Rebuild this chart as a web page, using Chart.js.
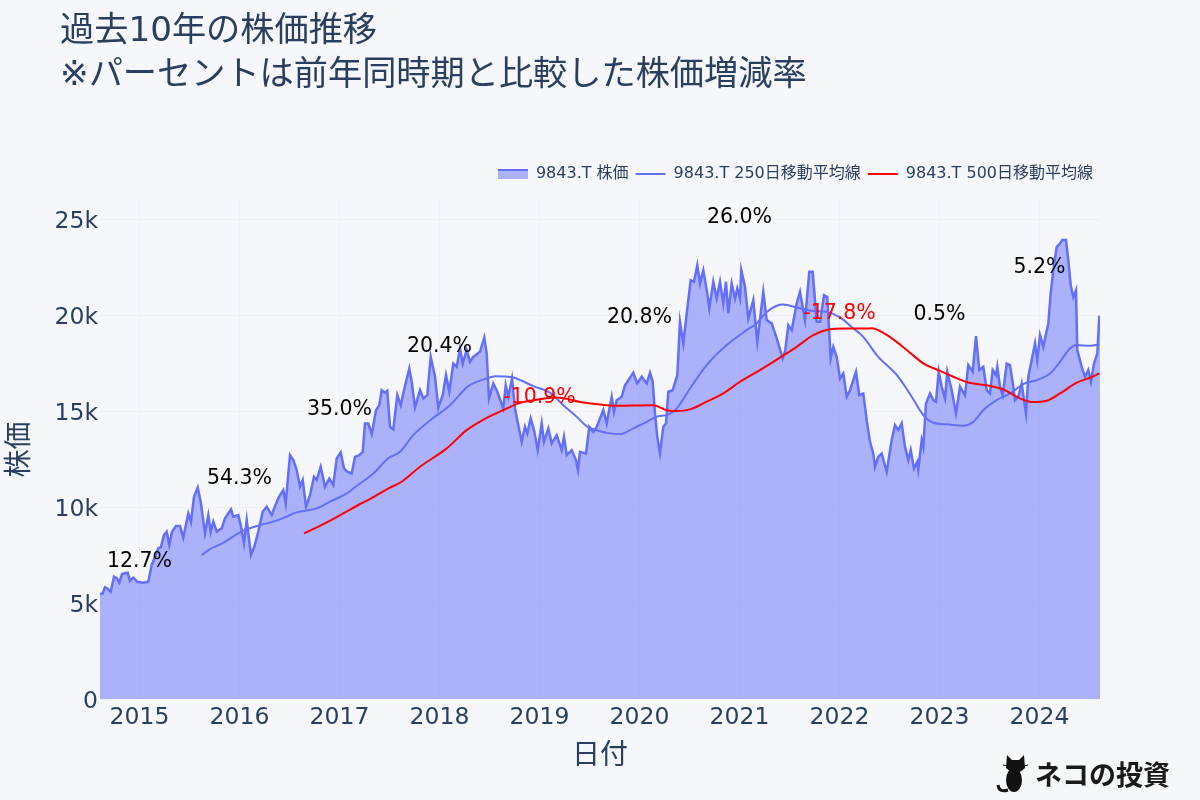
<!DOCTYPE html>
<html>
<head>
<meta charset="utf-8">
<title>過去10年の株価推移</title>
<script src="https://cdn.jsdelivr.net/npm/chart.js@4"></script>
<style>
  html, body { margin: 0; padding: 0; background: #f5f7fb; }
  canvas { display: block; }
</style>
</head>
<body>
<canvas id="stockChart" width="1200" height="800"></canvas>
<script>
const titleLines = ['過去10年の株価推移', '※パーセントは前年同時期と比較した株価増減率'];
const seriesNames = ['9843.T 株価', '9843.T 250日移動平均線', '9843.T 500日移動平均線'];
const yearTicks = [2015, 2016, 2017, 2018, 2019, 2020, 2021, 2022, 2023, 2024];
const priceTicks = [0, 5000, 10000, 15000, 20000, 25000];
const priceTickLabels = ['0', '5k', '10k', '15k', '20k', '25k'];

// x values are decimal years
const priceDates = [
  2014.605, 2014.632, 2014.655, 2014.678, 2014.712, 2014.745, 2014.772, 2014.798, 2014.825, 2014.855,
  2014.882, 2014.905, 2014.938, 2014.978, 2015.038, 2015.088, 2015.122, 2015.155, 2015.188, 2015.215,
  2015.245, 2015.272, 2015.298, 2015.325, 2015.365, 2015.405, 2015.438, 2015.488, 2015.515, 2015.545,
  2015.582, 2015.612, 2015.655, 2015.688, 2015.712, 2015.738, 2015.772, 2015.822, 2015.855, 2015.915,
  2015.938, 2015.988, 2016.012, 2016.045, 2016.072, 2016.115, 2016.148, 2016.188, 2016.232, 2016.272,
  2016.322, 2016.355, 2016.395, 2016.438, 2016.462, 2016.505, 2016.538, 2016.572, 2016.605, 2016.632,
  2016.665, 2016.705, 2016.745, 2016.772, 2016.812, 2016.855, 2016.898, 2016.938, 2016.972, 2017.012,
  2017.045, 2017.078, 2017.122, 2017.155, 2017.198,
  2017.232, 2017.255, 2017.288, 2017.322, 2017.365, 2017.398, 2017.422, 2017.455, 2017.478, 2017.505,
  2017.538, 2017.578, 2017.612, 2017.645, 2017.698, 2017.722, 2017.755, 2017.805, 2017.838, 2017.878,
  2017.912, 2017.955, 2017.988, 2018.032, 2018.065, 2018.098, 2018.138, 2018.172, 2018.205, 2018.232,
  2018.272, 2018.305, 2018.338, 2018.405, 2018.448, 2018.472, 2018.495, 2018.538, 2018.578, 2018.638,
  2018.662, 2018.688, 2018.725, 2018.755, 2018.778, 2018.822, 2018.855, 2018.878, 2018.912, 2018.945,
  2018.982, 2019.022, 2019.045, 2019.088, 2019.122, 2019.172, 2019.222, 2019.245, 2019.272, 2019.322,
  2019.365, 2019.385, 2019.405, 2019.465, 2019.498, 2019.538, 2019.572, 2019.638, 2019.672, 2019.705,
  2019.722, 2019.745, 2019.772, 2019.822, 2019.855, 2019.938, 2019.978, 2020.022, 2020.072, 2020.105,
  2020.132, 2020.155, 2020.178, 2020.205, 2020.238, 2020.265, 2020.288, 2020.332, 2020.378, 2020.405,
  2020.438, 2020.478, 2020.512, 2020.545, 2020.578, 2020.605, 2020.638, 2020.678, 2020.698, 2020.738,
  2020.772, 2020.805, 2020.838, 2020.865, 2020.888, 2020.922, 2020.955, 2020.978, 2021.005, 2021.018,
  2021.055, 2021.088, 2021.138, 2021.178, 2021.238, 2021.272, 2021.322, 2021.372, 2021.432, 2021.458,
  2021.488, 2021.522, 2021.572, 2021.605, 2021.655, 2021.698, 2021.732, 2021.772, 2021.805, 2021.845,
  2021.878, 2021.912, 2021.938, 2021.972, 2022.005, 2022.038, 2022.072, 2022.105, 2022.165, 2022.198,
  2022.238, 2022.272, 2022.305,
  2022.338, 2022.355, 2022.388, 2022.422, 2022.472, 2022.522, 2022.555, 2022.588, 2022.622, 2022.655,
  2022.688, 2022.712, 2022.745, 2022.778, 2022.788, 2022.822, 2022.838, 2022.865, 2022.905, 2022.938,
  2022.965, 2022.992, 2023.022, 2023.055, 2023.078, 2023.122, 2023.165, 2023.205, 2023.255, 2023.288,
  2023.332, 2023.365, 2023.398, 2023.438, 2023.472, 2023.505, 2023.532, 2023.565, 2023.578, 2023.605,
  2023.632, 2023.672, 2023.705, 2023.738, 2023.755, 2023.788, 2023.822, 2023.845, 2023.865, 2023.888,
  2023.922, 2023.955, 2023.978, 2024.005, 2024.038, 2024.088, 2024.112, 2024.138, 2024.172, 2024.205,
  2024.228, 2024.265, 2024.288, 2024.312, 2024.338, 2024.365, 2024.378, 2024.422, 2024.455, 2024.488,
  2024.515, 2024.545, 2024.578, 2024.598, 2024.605
];
const priceValues = [
  5470, 5500, 5820, 5760, 5590, 6370, 6290, 6060, 6510, 6550,
  6580, 6150, 6320, 6110, 6060, 6110, 6980, 7410, 7850, 7930,
  8540, 8720, 8020, 8720, 9010, 9010, 8400, 9670, 9240, 10540,
  11020, 10280, 8630, 9580, 8720, 9240, 8720, 8890, 9410, 9880,
  9500, 9580, 9060, 8110, 9320, 7500, 7930, 8720, 9760, 10020,
  9580, 10050, 10540, 10890, 10190, 12710, 12450, 11930, 11060, 11410,
  10020, 10620, 11580, 11410, 12100, 11060, 11490, 11150, 12530, 12850,
  12010, 11840, 11750, 12620, 12710,
  12880, 14360, 14360, 13800, 15050, 15310, 16090, 15960, 16060, 14180,
  14050, 15830, 15310, 16090, 17220, 16530, 15190, 16090, 15660, 15830,
  17830, 16790, 15190, 15830, 16880, 16010, 17480, 17310, 18260, 17480,
  18180, 17570, 17830, 18090, 18840, 18000, 15660, 16440, 16010, 15140,
  16350, 15750, 16700, 15140, 14530, 13400, 14180, 13840, 14620, 14010,
  12970, 14360, 13400, 14100, 13320, 13750, 12970, 13660, 12710, 12970,
  12450, 11930, 12880, 12800, 14180, 13920, 14180, 15050, 14360, 15310,
  15750, 14960, 15570, 15750, 16350, 17000, 16440, 16790, 16440, 17000,
  16530, 14880, 13660, 12800, 14180, 14360, 16010, 16090, 16870, 19650,
  18520, 20350, 21820, 21740, 22600, 21650, 22340, 21130, 20350, 21740,
  20870, 21740, 20610, 21740, 20090, 21650, 20870, 21390, 20870, 22340,
  21480, 19830, 20780, 18610, 21220, 19740, 19570, 18790, 17740, 18180,
  19480, 19220, 20610, 21220, 19740, 22260, 22260, 19650, 19650, 21040,
  20950, 17740, 18350, 17830, 16700, 16960, 15750, 16090, 17050, 15830,
  15920, 14530, 13400,
  12790, 12100, 12620, 12790, 11840, 13490, 14270, 14010, 14360, 13140,
  12450, 12970, 12010, 12360, 11960, 13490, 13140, 15400, 15920, 15570,
  15490, 17050, 16270, 15660, 17050, 16090, 14880, 16270, 15830, 17400,
  17050, 18910, 17140, 17310, 16090, 15920, 17140, 16880, 17310, 16270,
  15830, 17480, 17400, 16270, 15570, 15750, 16440, 15570, 14880, 16790,
  17660, 18530, 17660, 18960, 18350, 19570, 21130, 22340, 23560, 23730,
  23910, 23910, 22870, 21560, 20950, 21300, 18180, 17310, 16790, 17140,
  16530, 17480, 18000, 19910, 19910
];

const ma250Dates = [
  2015.622, 2015.705, 2015.838, 2015.988, 2016.072, 2016.205, 2016.338, 2016.472, 2016.555, 2016.772,
  2016.905, 2017.072, 2017.138, 2017.338, 2017.488, 2017.605, 2017.738, 2017.938, 2018.105, 2018.288,
  2018.472, 2018.555, 2018.738, 2018.822, 2018.938, 2019.105, 2019.238, 2019.372, 2019.488, 2019.588,
  2019.705, 2019.805, 2019.938, 2020.072, 2020.188, 2020.272, 2020.372, 2020.505, 2020.672, 2020.872,
  2021.072, 2021.172, 2021.272, 2021.372, 2021.438, 2021.572, 2021.738, 2021.872, 2022.005, 2022.138,
  2022.238, 2022.372, 2022.588, 2022.722, 2022.838, 2022.938, 2023.072, 2023.238, 2023.338, 2023.438,
  2023.572, 2023.705, 2023.838, 2023.972, 2024.105, 2024.205, 2024.305, 2024.372, 2024.505, 2024.598
];
const ma250Values = [
  7500, 7810, 8140, 8630, 8840, 9060, 9240, 9500, 9700, 9930,
  10280, 10710, 10970, 11750, 12540, 12880, 13750, 14650, 15310, 16300,
  16700, 16820, 16750, 16580, 16300, 15960, 15310, 14700, 14150, 13980,
  13840, 13800, 14100, 14440, 14740, 14790, 15140, 16180, 17400, 18440,
  19220, 19570, 20170, 20490, 20550, 20400, 20220, 20170, 19880, 19310,
  18870, 17920, 16790, 15750, 14790, 14390, 14310, 14240, 14440, 15050,
  15570, 15920, 16410, 16610, 16960, 17570, 18260, 18440, 18400, 18470
];

const ma500Dates = [
  2016.645, 2016.838, 2017.038, 2017.205, 2017.305, 2017.505, 2017.622, 2017.805, 2018.072, 2018.272,
  2018.472, 2018.638, 2018.805, 2018.938, 2019.172, 2019.455, 2019.605, 2019.738, 2020.138, 2020.272,
  2020.372, 2020.505, 2020.672, 2020.838, 2021.005, 2021.205, 2021.405, 2021.572, 2021.738, 2021.905,
  2022.038, 2022.272, 2022.322, 2022.438, 2022.572, 2022.705, 2022.855, 2023.005, 2023.138, 2023.288,
  2023.505, 2023.638, 2023.805, 2023.938, 2024.072, 2024.205, 2024.372, 2024.505, 2024.598
];
const ma500Values = [
  8630, 9110, 9670, 10160, 10420, 11010, 11320, 12100, 13060, 14010,
  14650, 15050, 15430, 15570, 15710, 15430, 15350, 15280, 15310, 15050,
  15000, 15090, 15490, 15920, 16530, 17140, 17790, 18350, 18960, 19270,
  19300, 19300, 19320, 19080, 18610, 18040, 17430, 17100, 16790, 16490,
  16320, 16130, 15660, 15470, 15540, 15920, 16480, 16740, 16960
];

// year over year change labels
const changeYears = [2015, 2016, 2017, 2018, 2019, 2020, 2021, 2022, 2023, 2024];
const changeHeights = [7140, 11460, 15100, 18340, 15680, 19850, 25100, 20100, 20050, 22500];
const changeTexts = ['12.7%', '54.3%', '35.0%', '20.4%', '-10.9%', '20.8%', '26.0%', '-17.8%', '0.5%', '5.2%'];

const inkColor = '#2a3f5f';
const blue = '#636efa';
const latin = '"DejaVu Sans", "Noto Sans CJK JP", sans-serif';

function toPoints(xs, ys) {
  return xs.map((x, i) => ({ x: x, y: ys[i] }));
}

// legend swatch for the filled series: line on top, fill below
const areaSwatch = document.createElement('canvas');
areaSwatch.width = 30;
areaSwatch.height = 10;
const swatchCtx = areaSwatch.getContext('2d');
swatchCtx.fillStyle = 'rgba(99, 110, 250, 0.5)';
swatchCtx.fillRect(0, 0, 30, 10);
swatchCtx.fillStyle = blue;
swatchCtx.fillRect(0, 0, 30, 2);

// the legend sits higher than Chart.js would put it, so give it a taller box
const legendRoom = {
  id: 'legendRoom',
  beforeInit(chart) {
    const fit = chart.legend.fit;
    chart.legend.fit = function () {
      fit.call(this);
      this.height = 41;
    };
  }
};

const changeLabels = {
  id: 'changeLabels',
  afterDatasetsDraw(chart) {
    const ctx = chart.ctx;
    ctx.save();
    ctx.font = '20.5px ' + latin;
    ctx.textAlign = 'center';
    ctx.textBaseline = 'middle';
    changeTexts.forEach((t, i) => {
      ctx.fillStyle = t.startsWith('-') ? '#ff0000' : '#000000';
      ctx.fillText(t, chart.scales.x.getPixelForValue(changeYears[i]), chart.scales.y.getPixelForValue(changeHeights[i]));
    });
    ctx.restore();
  }
};

function drawCat(ctx) {
  ctx.fillStyle = '#111';
  ctx.beginPath();
  ctx.ellipse(1014, 780, 8, 12, 0, 0, Math.PI * 2);
  ctx.fill();
  ctx.beginPath();
  ctx.moveTo(1007, 755);
  ctx.lineTo(1012, 760);
  ctx.lineTo(1019, 760);
  ctx.lineTo(1024, 755);
  ctx.lineTo(1025, 768);
  ctx.quadraticCurveTo(1016, 777, 1006, 768);
  ctx.closePath();
  ctx.fill();
  ctx.strokeStyle = '#111';
  ctx.lineWidth = 3;
  ctx.beginPath();
  ctx.moveTo(1008, 790);
  ctx.quadraticCurveTo(999, 793, 998, 785);
  ctx.stroke();
  ctx.lineWidth = 1;
  ctx.beginPath();
  ctx.moveTo(1003, 765);
  ctx.lineTo(1008, 766);
  ctx.moveTo(1023, 766);
  ctx.lineTo(1028, 765);
  ctx.stroke();
}

const pageText = {
  id: 'pageText',
  afterDraw(chart) {
    const ctx = chart.ctx;
    ctx.save();
    ctx.fillStyle = inkColor;
    ctx.font = '34.2px ' + latin;
    ctx.textAlign = 'left';
    ctx.textBaseline = 'middle';
    ctx.fillText(titleLines[0], 60, 32);
    ctx.fillText(titleLines[1], 60, 76);
    ctx.fillStyle = '#1a1a1a';
    ctx.font = 'bold 27px "Noto Sans CJK JP", sans-serif';
    ctx.fillText('ネコの投資', 1035, 775);
    drawCat(ctx);
    ctx.restore();
  }
};

const ctx = document.getElementById('stockChart').getContext('2d');
const myChart = new Chart(ctx, {
  type: 'line',
  data: {
    datasets: [
      {
        label: seriesNames[0],
        data: toPoints(priceDates, priceValues),
        borderColor: blue,
        backgroundColor: 'rgba(99, 110, 250, 0.5)',
        borderWidth: 2.5,
        fill: 'origin',
        pointRadius: 0,
        tension: 0,
        order: 3
      },
      {
        label: seriesNames[1],
        data: toPoints(ma250Dates, ma250Values),
        borderColor: blue,
        backgroundColor: blue,
        borderWidth: 2,
        fill: false,
        pointRadius: 0,
        cubicInterpolationMode: 'monotone',
        order: 2
      },
      {
        label: seriesNames[2],
        data: toPoints(ma500Dates, ma500Values),
        borderColor: '#ff0000',
        backgroundColor: '#ff0000',
        borderWidth: 2,
        fill: false,
        pointRadius: 0,
        cubicInterpolationMode: 'monotone',
        order: 1
      }
    ]
  },
  options: {
    responsive: false,
    animation: false,
    layout: { padding: { top: 159, right: 100, left: 0, bottom: 0 } },
    plugins: {
      tooltip: { enabled: false },
      title: { display: false },
      legend: {
        position: 'top',
        align: 'end',
        labels: {
          usePointStyle: true,
          pointStyleWidth: 30,
          padding: 7,
          color: inkColor,
          font: { family: latin, size: 16 },
          generateLabels(chart) {
            return chart.data.datasets.map((d, i) => ({
              text: d.label,
              datasetIndex: i,
              fontColor: inkColor,
              strokeStyle: d.borderColor,
              fillStyle: d.borderColor,
              lineWidth: 2,
              pointStyle: i === 0 ? areaSwatch : 'line'
            }));
          }
        }
      }
    },
    scales: {
      x: {
        type: 'linear',
        min: 2014.605,
        max: 2024.605,
        afterFit(scale) { scale.height = 101; },
        afterBuildTicks(scale) { scale.ticks = yearTicks.map(v => ({ value: v })); },
        border: { display: false },
        grid: { color: '#edf0f6', drawTicks: false },
        ticks: {
          padding: 5,
          maxRotation: 0,
          autoSkip: false,
          color: inkColor,
          font: { family: latin, size: 23.5 },
          callback: v => String(v)
        },
        title: {
          display: true,
          text: '日付',
          color: inkColor,
          font: { family: latin, size: 28 },
          padding: { top: 0, bottom: 26 }
        }
      },
      y: {
        min: 0,
        max: 26000,
        afterFit(scale) { scale.width = 100; },
        afterBuildTicks(scale) { scale.ticks = priceTicks.map(v => ({ value: v })); },
        border: { display: false },
        grid: { color: '#edf0f6', drawTicks: false },
        ticks: {
          padding: 2,
          labelOffset: 3,
          autoSkip: false,
          color: inkColor,
          font: { family: latin, size: 23.5 },
          callback: v => priceTickLabels[priceTicks.indexOf(v)]
        },
        title: {
          display: true,
          text: '株価',
          color: inkColor,
          font: { family: latin, size: 28 },
          padding: { top: 4, bottom: 0 }
        }
      }
    }
  },
  plugins: [legendRoom, changeLabels, pageText]
});
</script>
</body>
</html>
